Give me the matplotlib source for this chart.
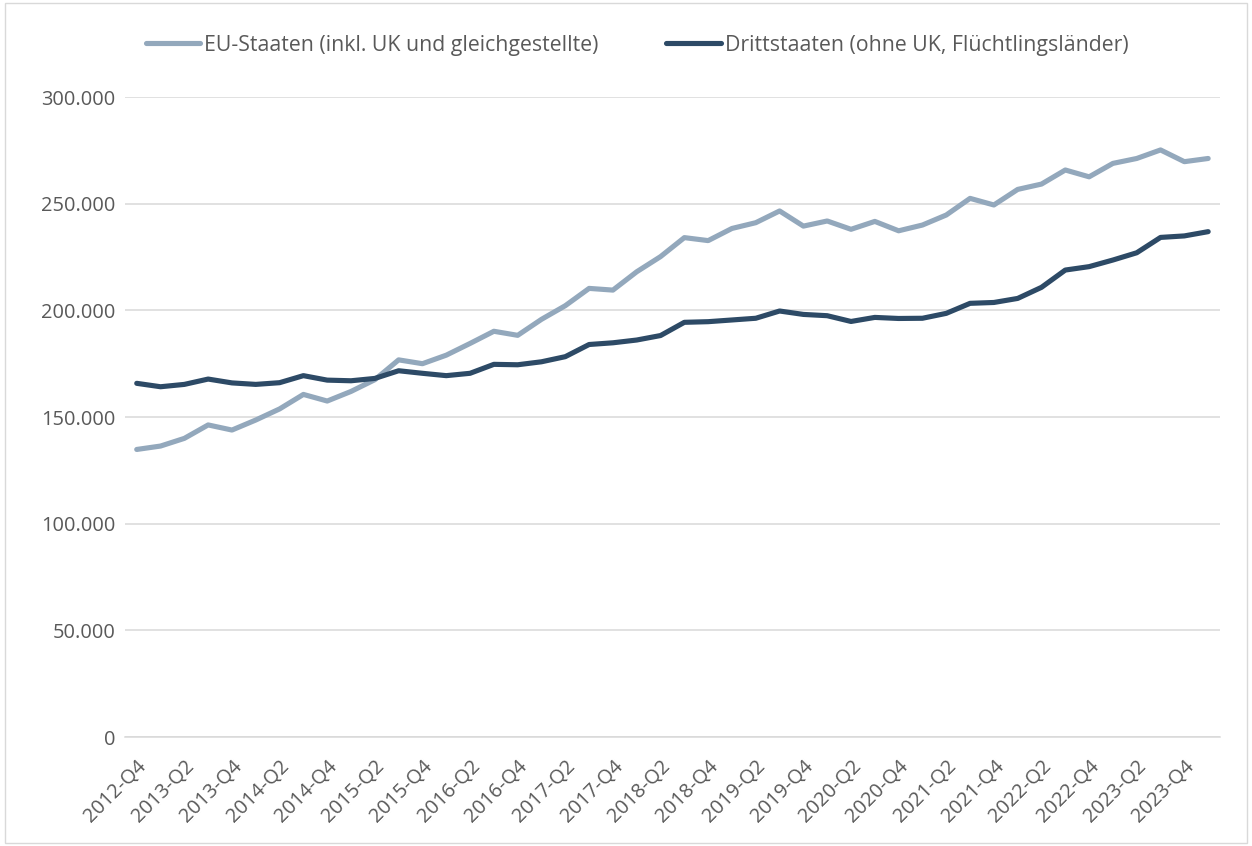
import matplotlib
matplotlib.use("Agg")
import matplotlib.pyplot as plt
from matplotlib.patches import Rectangle
from matplotlib.ticker import FuncFormatter, MultipleLocator

plt.rcParams['font.family'] = ['Open Sans', 'DejaVu Sans']

# Quartale 2012-Q4 bis 2024-Q1
quartale = ['2012-Q4'] + [f'{j}-Q{q}' for j in range(2013, 2024) for q in range(1, 5)] + ['2024-Q1']

eu_staaten = [
    134800, 136400, 140000, 146300, 143900, 148600, 153800, 160600, 157500, 162000,
    167500, 176800, 175000, 179000, 184500, 190200, 188300, 195800, 202200, 210300,
    209500, 218100, 225200, 234100, 232700, 238400, 241100, 246600, 239500, 241900,
    238000, 241700, 237300, 240000, 244700, 252500, 249400, 256700, 259200, 265800,
    262600, 268900, 271200, 275200, 269700, 271200,
]
drittstaaten = [
    165800, 164200, 165300, 167800, 166000, 165300, 166100, 169400, 167300, 167000,
    168100, 171700, 170500, 169400, 170500, 174700, 174500, 175900, 178300, 184000,
    184800, 186100, 188200, 194400, 194700, 195500, 196300, 199700, 198100, 197500,
    194800, 196700, 196200, 196300, 198600, 203300, 203700, 205600, 210800, 218900,
    220500, 223600, 227000, 234200, 234900, 236900,
]

hell = '#93A8BC'
dunkel = '#2D4A66'
grau = '#595959'

fig = plt.figure(figsize=(12.52, 8.46), dpi=100)
ax = fig.add_axes([0.0997, 0.1288, 0.8748, 0.7565])

x = range(len(quartale))
ax.plot(x, eu_staaten, color=hell, lw=3.7, solid_capstyle='round', solid_joinstyle='round',
        label='EU-Staaten (inkl. UK und gleichgestellte)')
ax.plot(x, drittstaaten, color=dunkel, lw=3.7, solid_capstyle='round', solid_joinstyle='round',
        label='Drittstaaten (ohne UK, Flüchtlingsländer)')

ax.set_xlim(-0.5, len(quartale) - 0.5)
ax.set_ylim(0, 300000)
ax.yaxis.set_major_locator(MultipleLocator(50000))
ax.yaxis.set_major_formatter(FuncFormatter(lambda v, p: f'{int(v):,}'.replace(',', '.')))
ax.grid(axis='y', color='#D9D9D9', lw=1.1)
ax.set_axisbelow(True)
for s in ax.spines.values():
    s.set_visible(False)
ax.spines['bottom'].set_visible(True)
ax.spines['bottom'].set_color('#D9D9D9')
ax.spines['bottom'].set_linewidth(1.1)

ax.set_xticks(list(x)[::2])
ax.set_xticklabels(quartale[::2], rotation=45, ha='right', va='top', rotation_mode='anchor')
ax.tick_params(axis='both', length=0, colors=grau, labelsize=14.4)
ax.tick_params(axis='x', pad=14)
ax.tick_params(axis='y', pad=7)

ax.legend(loc='center', bbox_to_anchor=(0.4677, 1.081), ncol=2, frameon=False,
          fontsize=15.3, labelcolor=grau, handlelength=2.55, handletextpad=0.2,
          columnspacing=3.2)

fig.patches.append(Rectangle((0.004, 0.004), 0.992, 0.992, transform=fig.transFigure,
                             fill=False, edgecolor='#D9D9D9', lw=1))

fig.savefig('out.png', dpi=100)
